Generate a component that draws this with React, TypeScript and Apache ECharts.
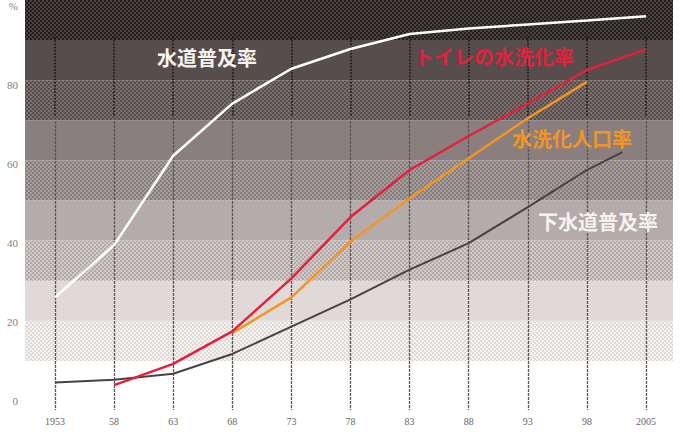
import React, { useEffect, useRef } from "react";
import * as echarts from "echarts";

// ---- data ----
const years = [1953, 1958, 1963, 1968, 1973, 1978, 1983, 1988, 1993, 1998, 2003];
const tickLabels = ["1953", "58", "63", "68", "73", "78", "83", "88", "93", "98", "2005"];
const yTickLabels = ["0", "20", "40", "60", "80", "%"];
const waterSupply = [26.2, 39.4, 62, 75.2, 84, 89, 92.8, 94.2, 95.2, 96.2, 97.3];
const toiletFlush = [null, 4, 9.4, 17.6, 31, 46.5, 58.4, 67, 75.2, 83.7, 88.9];
const flushPopulation = [null, null, null, 17.2, 26.2, 40.3, 51.2, 61.4, 71.5, 80.7, null];
const sewerYears = [1953, 1958, 1963, 1968, 1973, 1978, 1983, 1988, 1993, 1998, 2001];
const sewer = [4.7, 5.4, 6.9, 11.9, 18.8, 25.7, 33.2, 39.9, 49, 58.4, 62.9];
const seriesNames = ["水道普及率", "トイレの水洗化率", "水洗化人口率", "下水道普及率"];

const baseYear = years[0];
const toPairs = (xs: number[], vs: (number | null)[]) =>
  xs.map((y, i) => [y - baseYear, vs[i]]).filter((p) => p[1] !== null);

// background bands, bottom (0-10) to top (90-100): [base colour, halftone dot colour]
const bandBase = ["#ffffff", "#f6f3f3", "#e0d9d8", "#d2cac9", "#b4acab", "#a89e9d", "#8a7f7e", "#7b706f", "#574d4c", "#4a4141"];
const bandDots = [null, "#d6cecd", null, "#a49a99", null, "#7a706f", null, "#4a403f", null, "#141010"];

function makePattern(base: string, dot: string | null) {
  if (!dot) return base;
  const size = 4;
  const c = document.createElement("canvas");
  c.width = size;
  c.height = size;
  const ctx = c.getContext("2d")!;
  ctx.fillStyle = base;
  ctx.fillRect(0, 0, size, size);
  ctx.fillStyle = dot;
  const pts = [
    [1, 1],
    [3, 3],
  ];
  for (const [x, y] of pts) {
    ctx.beginPath();
    ctx.arc(x, y, 0.95, 0, Math.PI * 2);
    ctx.fill();
  }
  // wrap-around corners for the (3,3) dot
  ctx.beginPath();
  ctx.arc(-1, -1, 0.95, 0, Math.PI * 2);
  ctx.fill();
  return {
    image: c.toDataURL(),
    repeat: "repeat",
    imageWidth: size,
    imageHeight: size,
  };
}

export default function App() {
  const ref = useRef<HTMLDivElement>(null);
  useEffect(() => {
    if (!ref.current) return;
    const chart = echarts.init(ref.current, undefined, { renderer: "svg" });
    const labelFont = "Liberation Sans Narrow";
    const jp = "Noto Sans CJK JP";
    const bandFills = bandBase.map((b, i) => makePattern(b, bandDots[i]));
    chart.setOption({
      animation: false,
      backgroundColor: "#ffffff",
      grid: [
        { left: 55, right: 37, top: -3, bottom: 37 },
        { left: 25, right: 10, top: -3, bottom: 37 },
        { left: 55, right: 37, top: 37, bottom: 321 },
        { left: 55, right: 37, top: 117, bottom: 28 },
      ],
      xAxis: [
        {
          gridIndex: 0,
          type: "value",
          min: 0,
          max: 50,
          interval: 5,
          axisLine: { show: false },
          axisTick: { show: false },
          splitLine: { show: false },
          axisLabel: {
            margin: 15,
            fontSize: 10,
            fontFamily: labelFont,
            color: "#666",
            formatter: (v: number) => tickLabels[Math.round(v / 5)] ?? "",
          },
        },
        { gridIndex: 1, type: "value", min: 0, max: 1, show: false },
        {
          gridIndex: 2,
          type: "value",
          min: 0,
          max: 50,
          interval: 5,
          z: 1,
          axisLine: { show: false },
          axisTick: { show: false },
          axisLabel: { show: false },
          splitLine: {
            show: true,
            lineStyle: { color: "#1a1414", width: 1.6, type: [1.6, 1.6] },
          },
        },
        {
          gridIndex: 3,
          type: "value",
          min: 0,
          max: 50,
          interval: 5,
          z: 1,
          axisLine: { show: false },
          axisTick: { show: false },
          axisLabel: { show: false },
          splitLine: {
            show: true,
            lineStyle: { color: "#5e5555", width: 1.3, type: [3, 1] },
          },
        },
      ],
      yAxis: [
        {
          gridIndex: 0,
          type: "value",
          min: 0,
          max: 100,
          interval: 20,
          axisLine: { show: false },
          axisTick: { show: false },
          splitLine: { show: false },
          axisLabel: {
            margin: 37,
            fontSize: 11,
            fontFamily: labelFont,
            color: "#808080",
            formatter: (v: number) => yTickLabels[Math.round(v / 20)] ?? "",
          },
        },
        {
          gridIndex: 1,
          type: "value",
          min: 0,
          max: 100,
          interval: 10,
          z: 0,
          axisLine: { show: false },
          axisTick: { show: false },
          axisLabel: { show: false },
          splitLine: { show: false },
          splitArea: { show: true, areaStyle: { color: bandFills } },
        },
        { gridIndex: 2, type: "value", min: 0, max: 1, show: false },
        { gridIndex: 3, type: "value", min: 0, max: 1, show: false },
      ],
      series: [
        {
          name: seriesNames[3],
          type: "line",
          xAxisIndex: 0,
          yAxisIndex: 0,
          data: toPairs(sewerYears, sewer),
          showSymbol: false,
          z: 3,
          lineStyle: { color: "#4a4242", width: 2 },
        },
        {
          name: seriesNames[2],
          type: "line",
          data: toPairs(years, flushPopulation),
          showSymbol: false,
          z: 4,
          lineStyle: { color: "#f3951f", width: 2.5 },
        },
        {
          name: seriesNames[1],
          type: "line",
          data: toPairs(years, toiletFlush),
          showSymbol: false,
          z: 5,
          lineStyle: { color: "#e3203d", width: 2.5 },
        },
        {
          name: seriesNames[0],
          type: "line",
          data: toPairs(years, waterSupply),
          showSymbol: false,
          z: 6,
          lineStyle: { color: "#ffffff", width: 2.5 },
        },
      ],
      graphic: [
        {
          type: "text",
          left: 157,
          top: 47,
          z: 10,
          style: { text: seriesNames[0], fill: "#f6f2f0", font: `bold 20px "${jp}"` },
        },
        {
          type: "text",
          left: 414,
          top: 46,
          z: 10,
          style: { text: seriesNames[1], fill: "#e3203d", font: `bold 20px "${jp}"` },
        },
        {
          type: "text",
          left: 512,
          top: 128,
          z: 10,
          style: { text: seriesNames[2], fill: "#f3951f", font: `bold 20px "${jp}"` },
        },
        {
          type: "text",
          left: 538,
          top: 211,
          z: 10,
          style: { text: seriesNames[3], fill: "#f6f2f0", font: `bold 20px "${jp}"` },
        },
      ],
    });
    return () => chart.dispose();
  }, []);
  return (
    <div
      ref={ref}
      style={{ position: "fixed", left: 0, top: 0, width: 683, height: 438 }}
    />
  );
}
